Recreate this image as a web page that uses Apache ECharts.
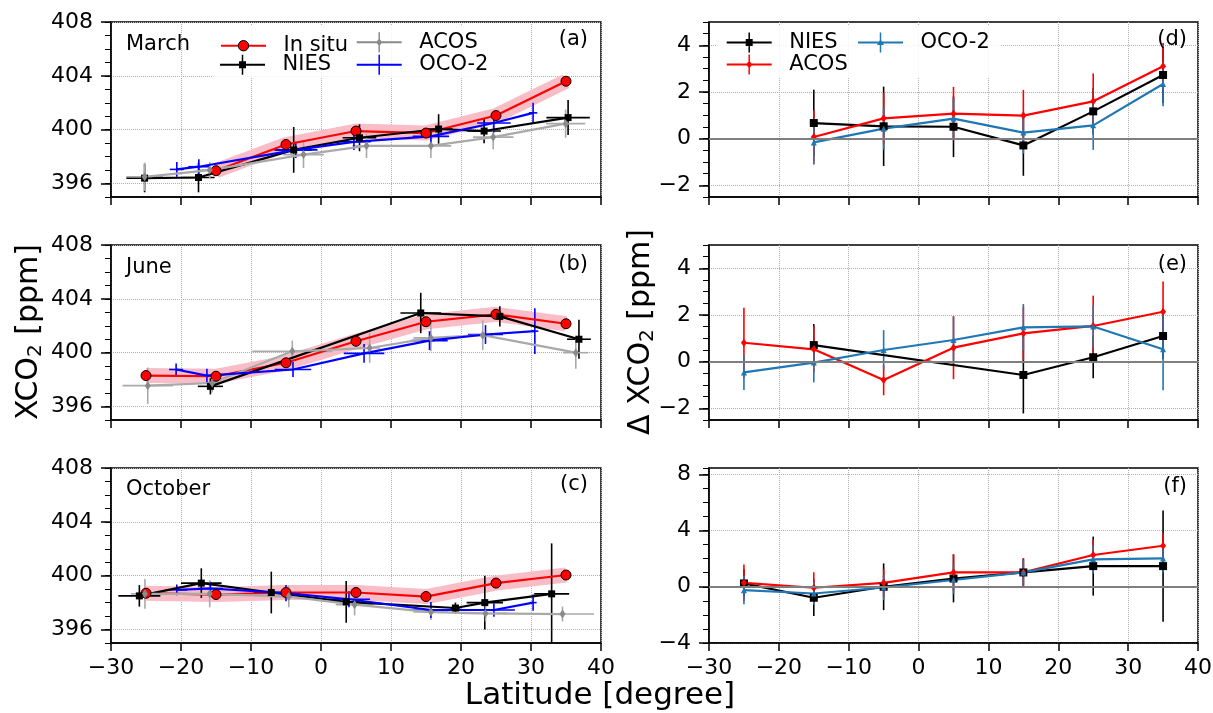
<!DOCTYPE html>
<html><head><meta charset="utf-8">
<script src="https://cdn.jsdelivr.net/npm/echarts@6/dist/echarts.min.js"></script>
<style>html,body{margin:0;padding:0;background:#fff}#c{width:1213px;height:713px}</style>
</head><body><div id="c"></div>
<script>
// ---------------- DATA ----------------
const yTicksLeft = [396, 400, 404, 408];
const yTicksDE = [-2, 0, 2, 4];
const yTicksF = [-4, 0, 4, 8];
const monthLabels = ['March', 'June', 'October'];
const panelLetters = ['(a)', '(b)', '(c)', '(d)', '(e)', '(f)'];
const binLat = [-25, -15, -5, 5, 15, 25, 35];

// (a) March
const insituA_lat = [-15, -5, 5, 15, 25, 35];
const insituA = [396.95, 398.9, 399.9, 399.75, 401.05, 403.6];
const niesA_lat = [-25.2, -17.5, -3.9, 5.5, 16.8, 23.3, 35.3];
const niesA = [396.4, 396.45, 398.5, 399.4, 400.05, 399.9, 400.9];
const niesA_yerr = [1.05, 1.1, 1.7, 1.0, 1.1, 0.9, 1.3];
const niesA_xerr = [2.6, 2.3, 2.6, 2.4, 2.0, 2.4, 3.1];
const acosA_lat = [-25.2, -15.9, -2.5, 6.5, 15.7, 24.6, 34.95];
const acosA = [396.5, 397.0, 398.15, 398.8, 398.8, 399.45, 400.45];
const acosA_yerr = [1.05, 0.6, 1.0, 0.9, 0.9, 0.9, 1.05];
const acosA_xerr = [2.6, 1.5, 2.9, 2.0, 2.9, 2.9, 2.8];
const ocoA_lat = [-20.6, -17.45, -3.6, 4.7, 15.7, 24.7, 30.3];
const ocoA = [397.05, 397.25, 398.5, 399.1, 399.5, 400.5, 401.25];
const ocoA_yerr = [0.55, 0.55, 0.6, 0.6, 0.5, 0.7, 0.75];
const ocoA_xerr = [1.0, 1.5, 3.1, 2.4, 2.6, 2.4, 0.6];

// (b) June
const insituB_lat = [-25, -15, -5, 5, 15, 25, 35];
const insituB = [398.3, 398.25, 399.25, 400.85, 402.3, 402.85, 402.15];
const niesB_lat = [-15.8, 14.25, 25.55, 36.85];
const niesB = [397.5, 402.95, 402.7, 401.0];
const niesB_yerr = [0.6, 1.5, 0.75, 1.45];
const niesB_xerr = [1.8, 2.9, 1.2, 1.7];
const acosB_lat = [-24.75, -15.55, -4.1, 6.95, 15.7, 23.1, 36.4];
const acosB = [397.55, 397.75, 400.1, 400.35, 401.1, 401.3, 400.0];
const acosB_yerr = [1.35, 0.7, 0.8, 1.1, 1.0, 1.1, 1.2];
const acosB_xerr = [3.6, 1.2, 5.7, 1.5, 2.5, 1.5, 1.8];
const ocoB_lat = [-20.7, -16.3, -4.0, 6.15, 15.5, 23.5, 30.55];
const ocoB = [398.75, 398.3, 398.75, 399.95, 400.9, 401.35, 401.6];
const ocoB_yerr = [0.45, 0.5, 0.55, 0.7, 0.7, 0.7, 1.7];
const ocoB_xerr = [1.0, 1.5, 2.6, 2.9, 2.6, 2.5, 0.5];

// (c) October
const insituC_lat = [-25, -15, -5, 5, 15, 25, 35];
const insituC = [398.7, 398.6, 398.75, 398.75, 398.45, 399.45, 400.05];
const niesC_lat = [-25.95, -17.1, -7.1, 3.6, 19.2, 23.4, 32.95];
const niesC = [398.5, 399.45, 398.75, 398.05, 397.6, 398.0, 398.65];
const niesC_yerr = [0.8, 1.1, 1.55, 1.55, 0.4, 2.0, 3.75];
const niesC_xerr = [3.0, 2.9, 2.5, 2.0, 0.7, 2.6, 2.5];
const acosC_lat = [-25.15, -15.9, -4.6, 4.8, 15.7, 23.5, 34.5];
const acosC = [398.65, 398.65, 398.45, 397.85, 397.3, 397.2, 397.15];
const acosC_yerr = [1.1, 1.0, 0.8, 0.8, 0.6, 0.6, 0.55];
const acosC_xerr = [2.0, 3.2, 3.0, 2.7, 2.5, 3.2, 4.5];
const ocoC_lat = [-20.6, -15.8, -5.0, 4.0, 15.7, 24.7, 30.3];
const ocoC = [398.95, 399.05, 398.7, 398.25, 397.45, 397.45, 398.0];
const ocoC_yerr = [0.4, 0.5, 0.6, 0.6, 0.6, 0.5, 0.6];
const ocoC_xerr = [1.5, 1.8, 2.0, 3.0, 3.0, 3.0, 0.5];

// (d) March differences
const dLat = [-15, -5, 5, 15, 25, 35];
const niesD = [0.67, 0.53, 0.51, -0.29, 1.17, 2.73];
const niesD_err = [1.43, 1.7, 1.3, 1.3, 1.0, 1.2];
const acosD = [0.07, 0.87, 1.07, 0.99, 1.6, 3.1];
const acosD_err = [1.15, 1.1, 1.15, 1.1, 1.2, 1.0];
const ocoD = [-0.16, 0.43, 0.86, 0.26, 0.57, 2.34];
const ocoD_err = [0.95, 0.9, 0.85, 0.9, 1.05, 0.95];

// (e) June differences
const niesE_lat = [-15, 15, 25, 35];
const niesE = [0.71, -0.57, 0.19, 1.1];
const niesE_err = [0.9, 1.65, 0.9, 1.0];
const acosE = [0.81, 0.53, -0.79, 0.6, 1.21, 1.53, 2.14];
const acosE_err = [1.5, 1.0, 0.65, 1.35, 1.15, 1.3, 1.3];
const ocoE = [-0.46, -0.04, 0.5, 0.93, 1.47, 1.51, 0.53];
const ocoE_err = [0.75, 0.85, 0.85, 1.0, 1.0, 0.9, 1.75];

// (f) October differences
const niesF = [0.24, -0.78, 0.0, 0.59, 1.02, 1.47, 1.47];
const niesF_err = [1.0, 1.3, 1.66, 1.7, 1.0, 2.1, 3.95];
const acosF = [0.28, -0.07, 0.28, 1.02, 1.02, 2.26, 2.92];
const acosF_err = [1.3, 1.1, 1.0, 1.3, 1.0, 1.1, 0.9];
const ocoF = [-0.24, -0.48, -0.05, 0.48, 1.02, 1.95, 2.02];
const ocoF_err = [1.0, 0.8, 0.9, 1.0, 0.9, 1.0, 1.0];

// ---------------- STYLE / BUILD ----------------
const FONT = 'DejaVu Sans';
const fmt = v => (v < 0 ? '\u2212' + Math.abs(v) : String(v));
const GRID_X = [111, 709];
const GRID_TOP = [22, 245, 468];
const GRID_W = [490, 489];
const GRID_H = 175;

const grids = [], xAxes = [], yAxes = [], series = [];
const yCfg = [
  {min: 395, max: 408, ticks: yTicksLeft, minor: 1},
  {min: 395, max: 408, ticks: yTicksLeft, minor: 1},
  {min: 395, max: 408, ticks: yTicksLeft, minor: 1},
  {min: -2.5, max: 5, ticks: yTicksDE, minor: 0.5},
  {min: -2.5, max: 5, ticks: yTicksDE, minor: 0.5},
  {min: -4, max: 8.45, ticks: yTicksF, minor: 1}
];
for (let g = 0; g < 6; g++) {
  const col = g < 3 ? 0 : 1, row = g % 3;
  grids.push({left: GRID_X[col], top: GRID_TOP[row], width: GRID_W[col], height: GRID_H,
    show: true, borderColor: '#000', borderWidth: 1.5, backgroundColor: 'transparent',
    containLabel: false, outerBoundsMode: 'none'});
  xAxes.push({type: 'value', gridIndex: g, min: -30, max: 40, interval: 10,
    axisLine: {onZero: false, lineStyle: {color: '#000', width: 1.5}},
    axisTick: {show: true, length: 8, lineStyle: {color: '#000', width: 1.5}},
    axisLabel: {show: row === 2, fontSize: 22, fontFamily: FONT, color: '#000', margin: 14, formatter: fmt},
    splitLine: {show: true, lineStyle: {color: '#b0b0b0', type: 'dotted', width: 1}}});
  const c = yCfg[g];
  yAxes.push({type: 'value', gridIndex: g, position: 'left', min: c.min, max: c.max,
    axisLine: {onZero: false, show: true, lineStyle: {color: '#000', width: 1.5}},
    axisTick: {show: true, length: 10, customValues: c.ticks, lineStyle: {color: '#000', width: 1.5}},
    axisLabel: {show: true, customValues: c.ticks, fontSize: 22, fontFamily: FONT, color: '#000', margin: 18, formatter: fmt},
    splitLine: {show: true, lineStyle: {color: '#b0b0b0', type: 'dotted', width: 1}}});
  yAxes.push({type: 'value', gridIndex: g, position: 'left', offset: 0, min: c.min, max: c.max, interval: c.minor,
    axisLine: {onZero: false, show: false},
    axisTick: {show: true, length: 6, lineStyle: {color: '#000', width: 1}},
    axisLabel: {show: false}, splitLine: {show: false}});
}

function pts(lat, val) { return lat.map((x, i) => [x, val[i]]); }
function lineS(name, g, lat, val, color, symbol, size, extra) {
  return Object.assign({type: 'line', name, xAxisIndex: g, yAxisIndex: 2 * g, data: pts(lat, val),
    symbol, symbolSize: size, showSymbol: true, lineStyle: {color, width: 2.2},
    itemStyle: {color}, animation: false, silent: true}, extra || {});
}
function errS(g, lat, val, yerr, xerr, color, lw) {
  return {type: 'custom', xAxisIndex: g, yAxisIndex: 2 * g, clip: true, silent: true, animation: false,
    data: lat.map((x, i) => [x, val[i], yerr[i], xerr ? xerr[i] : 0]),
    encode: {x: 0, y: 1},
    renderItem(params, api) {
      const x = api.value(0), y = api.value(1), ye = api.value(2), xe = api.value(3);
      const a = api.coord([x, y - ye]), b = api.coord([x, y + ye]);
      const ch = [{type: 'line', shape: {x1: a[0], y1: a[1], x2: b[0], y2: b[1]}, style: {stroke: color, lineWidth: lw}}];
      if (xe > 0) {
        const c1 = api.coord([x - xe, y]), d1 = api.coord([x + xe, y]);
        ch.push({type: 'line', shape: {x1: c1[0], y1: c1[1], x2: d1[0], y2: d1[1]}, style: {stroke: color, lineWidth: lw}});
      }
      return {type: 'group', children: ch};
    }};
}

const RED = '#ff0000', BLUE = '#0000ff', GRAYL = '#a9a9a9', GRAYM = '#8a8a8a', TAB = '#1f77b4';
const leftSets = [
  {sfx: 'a', ins: [insituA_lat, insituA],
   nies: [niesA_lat, niesA, niesA_yerr, niesA_xerr], acos: [acosA_lat, acosA, acosA_yerr, acosA_xerr], oco: [ocoA_lat, ocoA, ocoA_yerr, ocoA_xerr]},
  {sfx: 'b', ins: [insituB_lat, insituB],
   nies: [niesB_lat, niesB, niesB_yerr, niesB_xerr], acos: [acosB_lat, acosB, acosB_yerr, acosB_xerr], oco: [ocoB_lat, ocoB, ocoB_yerr, ocoB_xerr]},
  {sfx: 'c', ins: [insituC_lat, insituC],
   nies: [niesC_lat, niesC, niesC_yerr, niesC_xerr], acos: [acosC_lat, acosC, acosC_yerr, acosC_xerr], oco: [ocoC_lat, ocoC, ocoC_yerr, ocoC_xerr]}
];
leftSets.forEach((s, g) => {
  // shaded in-situ uncertainty band
  series.push({type: 'line', xAxisIndex: g, yAxisIndex: 2 * g, data: pts(s.ins[0], s.ins[1]), symbol: 'none',
    lineStyle: {color: '#f9bdc7', width: 15, cap: 'butt', join: 'round'}, animation: false, silent: true, z: 1});
  series.push(lineS(g === 0 ? 'In situ' : 'In situ_' + s.sfx, g, s.ins[0], s.ins[1], RED, 'circle', 10,
    {itemStyle: {color: RED, borderColor: '#000', borderWidth: 1}}));
  series.push(errS(g, s.nies[0], s.nies[1], s.nies[2], s.nies[3], '#000', 1.6));
  series.push(lineS('NIES_' + s.sfx, g, s.nies[0], s.nies[1], '#000', 'rect', 7));
  series.push(errS(g, s.acos[0], s.acos[1], s.acos[2], s.acos[3], GRAYL, 1.6));
  series.push(lineS('ACOS_' + s.sfx, g, s.acos[0], s.acos[1], GRAYL, 'diamond', [6, 9],
    {itemStyle: {color: GRAYM}}));
  series.push(errS(g, s.oco[0], s.oco[1], s.oco[2], s.oco[3], BLUE, 1.6));
  series.push(lineS('OCO-2_' + s.sfx, g, s.oco[0], s.oco[1], BLUE, 'none', 0));
});

const rightSets = [
  {sfx: 'd', nies: [dLat, niesD, niesD_err], acos: [dLat, acosD, acosD_err], oco: [dLat, ocoD, ocoD_err]},
  {sfx: 'e', nies: [niesE_lat, niesE, niesE_err], acos: [binLat, acosE, acosE_err], oco: [binLat, ocoE, ocoE_err]},
  {sfx: 'f', nies: [binLat, niesF, niesF_err], acos: [binLat, acosF, acosF_err], oco: [binLat, ocoF, ocoF_err]}
];
rightSets.forEach((s, i) => {
  const g = 3 + i;
  series.push(errS(g, s.nies[0], s.nies[1], s.nies[2], null, '#000', 1.6));
  series.push(lineS('NIES_' + s.sfx, g, s.nies[0], s.nies[1], '#000', 'rect', 8, {
    markLine: {silent: true, symbol: ['none', 'none'], label: {show: false}, animation: false,
      lineStyle: {color: '#7f7f7f', width: 2, type: 'solid'}, data: [{yAxis: 0}]}
  }));
  series.push(errS(g, s.acos[0], s.acos[1], s.acos[2], null, RED, 1.6));
  series.push(lineS('ACOS_' + s.sfx, g, s.acos[0], s.acos[1], RED, 'diamond', [6, 8]));
  series.push(errS(g, s.oco[0], s.oco[1], s.oco[2], null, TAB, 1.6));
  series.push(lineS('OCO-2_' + s.sfx, g, s.oco[0], s.oco[1], TAB, 'triangle', 6));
});

// legend icons (error-bar style)
const BAR = 'M0 9L45 9L45 11L0 11Z M21.75 0L23.25 0L23.25 20L21.75 20Z';
const IC_SQ = 'path://' + BAR + ' M19 6.5L26 6.5L26 13.5L19 13.5Z';
const IC_DM = 'path://' + BAR + ' M22.5 6L25.5 10L22.5 14L19.5 10Z';
const IC_CR = 'path://' + BAR;
const IC_TR = 'path://' + BAR + ' M22.5 6.5L26 12.5L19 12.5Z';
function leg(name, icon, left, cy) {
  const h = icon ? 20 : 13;
  const item = icon ? {name, icon, itemStyle: {borderWidth: 0}} : {name, itemStyle: {borderColor: '#000', borderWidth: 1}};
  return {show: true, orient: 'vertical', left, top: cy - h / 2, padding: 0, itemWidth: 45, itemHeight: h,
    selectedMode: false, data: [item], formatter: n => n.split('_')[0],
    textStyle: {fontSize: 21, fontFamily: FONT, color: '#000', padding: [0, 0, 0, 12.5]}};
}
const legends = [
  leg('In situ', null, 220, 41.7), leg('NIES_a', IC_SQ, 220, 64.3),
  leg('ACOS_a', IC_DM, 356.7, 41.7), leg('OCO-2_a', IC_CR, 356.7, 64.3),
  leg('NIES_d', IC_SQ, 726.7, 42), leg('ACOS_d', IC_DM, 726.7, 64), leg('OCO-2_d', IC_TR, 858, 42)
];

const TXT = {fill: '#000', font: '21px "DejaVu Sans"'};
const graphic = [
  {type: 'rect', z: 1, shape: {x: 212, y: 25, width: 288, height: 52}, style: {fill: 'rgba(255,255,255,0.85)'}},
  {type: 'rect', z: 1, shape: {x: 717, y: 25, width: 283, height: 52}, style: {fill: 'rgba(255,255,255,0.85)'}},
  {type: 'text', z: 5, x: 126, y: 45, style: Object.assign({text: monthLabels[0], align: 'left', verticalAlign: 'middle'}, TXT)},
  {type: 'text', z: 5, x: 126, y: 268, style: Object.assign({text: monthLabels[1], align: 'left', verticalAlign: 'middle'}, TXT)},
  {type: 'text', z: 5, x: 126, y: 490, style: Object.assign({text: monthLabels[2], align: 'left', verticalAlign: 'middle'}, TXT)},
  {type: 'text', z: 5, x: 588, y: 40, style: Object.assign({text: panelLetters[0], align: 'right', verticalAlign: 'middle'}, TXT)},
  {type: 'text', z: 5, x: 588, y: 265, style: Object.assign({text: panelLetters[1], align: 'right', verticalAlign: 'middle'}, TXT)},
  {type: 'text', z: 5, x: 588, y: 485, style: Object.assign({text: panelLetters[2], align: 'right', verticalAlign: 'middle'}, TXT)},
  {type: 'text', z: 5, x: 1187, y: 40, style: Object.assign({text: panelLetters[3], align: 'right', verticalAlign: 'middle'}, TXT)},
  {type: 'text', z: 5, x: 1187, y: 265, style: Object.assign({text: panelLetters[4], align: 'right', verticalAlign: 'middle'}, TXT)},
  {type: 'text', z: 5, x: 1187, y: 487, style: Object.assign({text: panelLetters[5], align: 'right', verticalAlign: 'middle'}, TXT)},
  {type: 'text', z: 5, x: 600, y: 696, style: {text: 'Latitude [degree]', align: 'center', verticalAlign: 'middle',
    fill: '#000', font: '31px "DejaVu Sans"'}},
  {type: 'text', z: 5, x: 29, y: 332, rotation: Math.PI / 2, style: {text: 'XCO{s|2} [ppm]', align: 'center', verticalAlign: 'middle',
    fill: '#000', font: '30px "DejaVu Sans"', lineHeight: 34,
    rich: {s: {fontSize: 20, fontFamily: FONT, lineHeight: 20, verticalAlign: 'bottom', fill: '#000'}}}},
  {type: 'text', z: 5, x: 641, y: 332, rotation: Math.PI / 2, style: {text: '\u0394 XCO{s|2} [ppm]', align: 'center', verticalAlign: 'middle',
    fill: '#000', font: '30px "DejaVu Sans"', lineHeight: 34,
    rich: {s: {fontSize: 20, fontFamily: FONT, lineHeight: 20, verticalAlign: 'bottom', fill: '#000'}}}}
];

const chart = echarts.init(document.getElementById('c'), null, {renderer: 'canvas'});
chart.setOption({
  animation: false,
  backgroundColor: '#fff',
  textStyle: {fontFamily: FONT},
  grid: grids, xAxis: xAxes, yAxis: yAxes, series, legend: legends, graphic
});
</script></body></html>
